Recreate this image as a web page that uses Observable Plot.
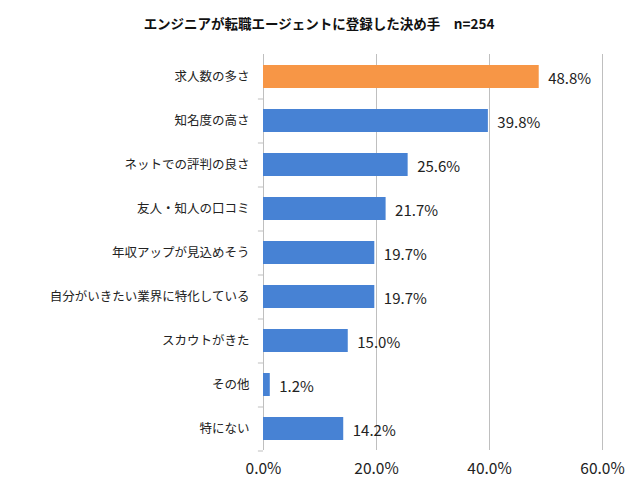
<!DOCTYPE html>
<html><head><meta charset="utf-8">
<script src="https://cdn.jsdelivr.net/npm/d3@7"></script>
<script src="https://cdn.jsdelivr.net/npm/@observablehq/plot@0.6"></script>
<style>
body{margin:0;background:#fff;}
#chart svg{font-family:"Noto Sans CJK JP","Noto Sans",sans-serif;}
</style>
</head><body><div id="chart"></div>
<script>
const title = "エンジニアが転職エージェントに登録した決め手　n=254";
const categories = ["求人数の多さ","知名度の高さ","ネットでの評判の良さ","友人・知人の口コミ","年収アップが見込めそう","自分がいきたい業界に特化している","スカウトがきた","その他","特にない"];
const values = [48.8,39.8,25.6,21.7,19.7,19.7,15.0,1.2,14.2];
const xTicks = [0,20,40,60];
const data = categories.map((c,i)=>({cat:c, v:values[i], hi:i===0}));

const chart = Plot.plot({
  width:635, height:481,
  marginLeft:263, marginRight:33, marginTop:54, marginBottom:31,
  style:{fontFamily:'"Noto Sans CJK JP","Noto Sans",sans-serif', background:"#fff", overflow:"visible"},
  x:{domain:[0,60], ticks:xTicks, tickFormat:d=>d.toFixed(1)+"%", tickSize:0, tickPadding:12, label:null},
  y:{domain:categories, paddingInner:0.48, paddingOuter:0.24, tickSize:0, tickPadding:14, label:null},
  marks:[
    Plot.ruleX(xTicks, {stroke:"#BFBFBF", strokeWidth:1}),
    Plot.ruleY(categories, {y:d=>d, x1:-0.9, x2:0, dy:22, stroke:"#BFBFBF"}),
    Plot.barX(data, {y:"cat", x:"v", fill:d=>d.hi?"#F79646":"#4782D4"}),
    Plot.text(data, {y:"cat", x:"v", text:d=>d.v.toFixed(1)+"%", textAnchor:"start", dx:9, dy:2, fontSize:15, fill:"#222"}),
    Plot.axisX({tickSize:0, tickPadding:12, tickFormat:d=>d.toFixed(1)+"%", ticks:xTicks, fontSize:15.5, fill:"#222", label:null}),
    Plot.axisY({tickSize:0, tickPadding:14, fontSize:12.5, fill:"#222", label:null}),
    Plot.text([title], {frameAnchor:"top", x:null, dx:-114, dy:-35, fontSize:13.5, fontWeight:"bold", fill:"#111"})
  ]
});
document.getElementById("chart").appendChild(chart);
</script></body></html>
